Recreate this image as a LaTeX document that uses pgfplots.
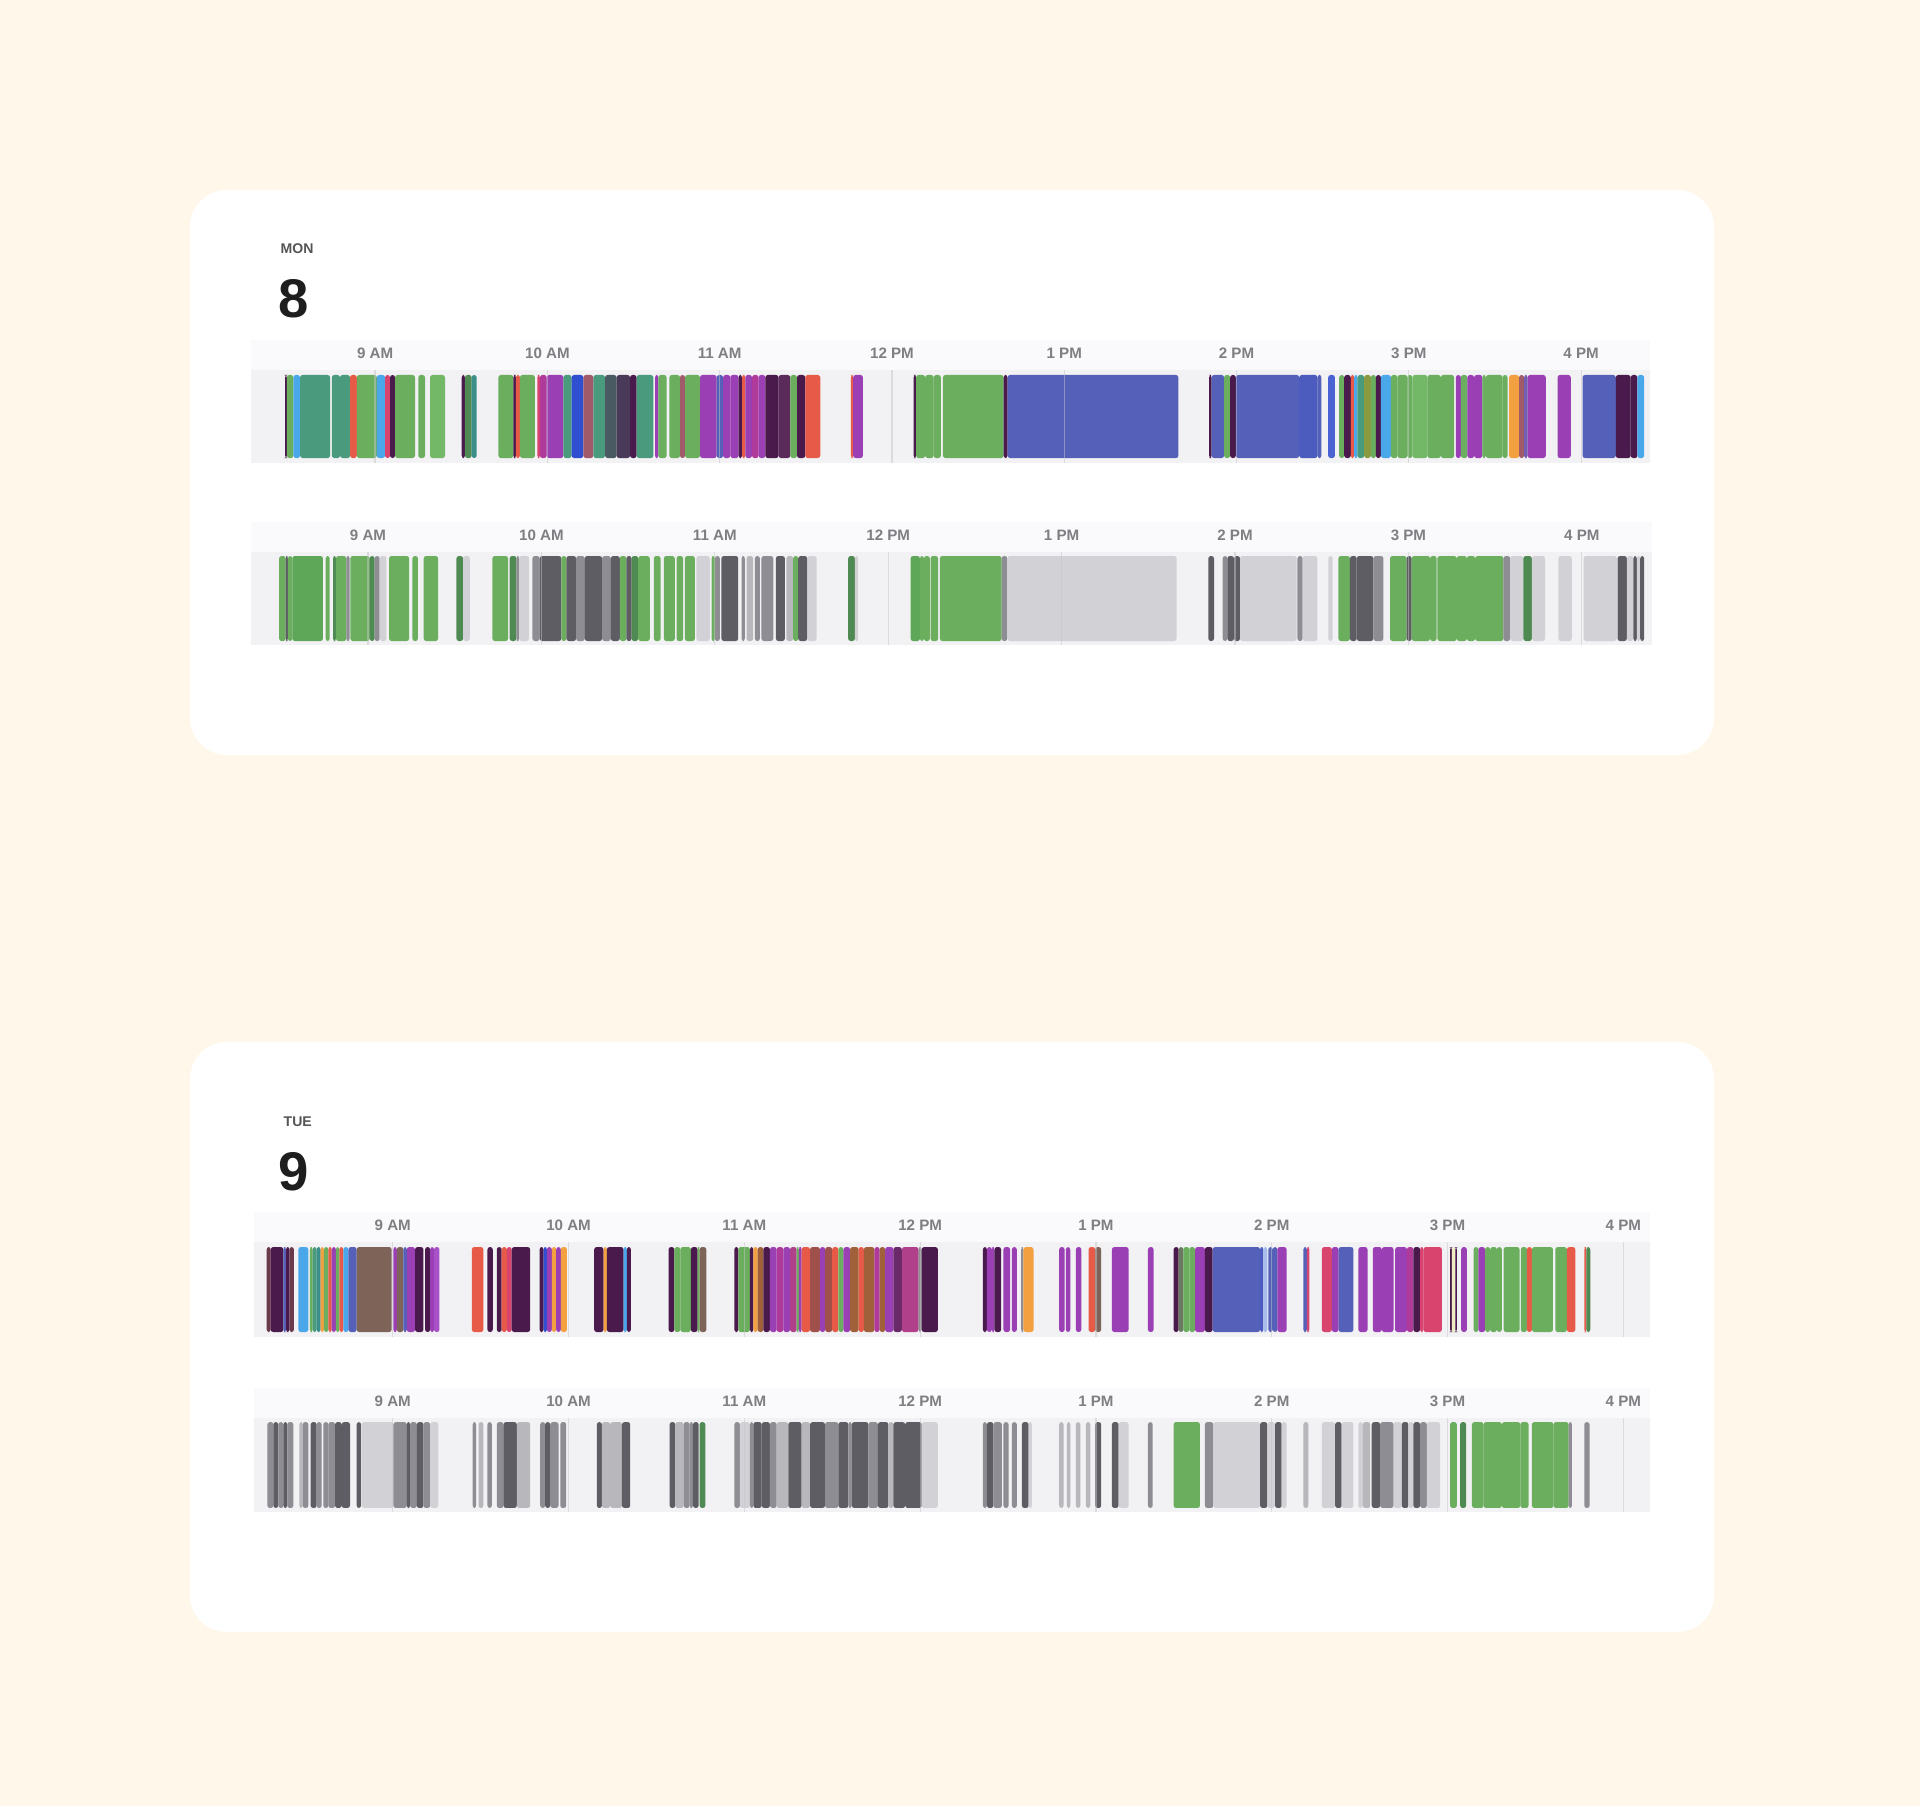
\documentclass[border=0pt]{standalone}
\usepackage{pgfplots}
\pgfplotsset{compat=1.18}
\usepackage{fontspec}
\setmainfont{Liberation Sans}

\definecolor{cream}{HTML}{FFF8EA}
\definecolor{stripbg}{HTML}{F2F1F4}
\definecolor{bandc}{HTML}{FAF9FB}
\definecolor{tickc}{HTML}{7E7E83}
\definecolor{gridc}{HTML}{C5C5C8}
\definecolor{headc}{HTML}{555555}
\definecolor{numc}{HTML}{1E1E1E}
% activity colours
\definecolor{grn}{HTML}{6AAE5E}
\definecolor{lgrn}{HTML}{72B866}
\definecolor{grn2}{HTML}{5EA658}
\definecolor{dgrn}{HTML}{4E8A52}
\definecolor{teal}{HTML}{4A9A7E}
\definecolor{teal2}{HTML}{3A8F8A}
\definecolor{blu}{HTML}{5560B8}
\definecolor{blu2}{HTML}{4C5BBE}
\definecolor{blu3}{HTML}{4A62D2}
\definecolor{bblu}{HTML}{2F4FD0}
\definecolor{lblu}{HTML}{4AA8EA}
\definecolor{pblu}{HTML}{A8BCEC}
\definecolor{pvblu}{HTML}{7060B0}
\definecolor{pur}{HTML}{9B3FB5}
\definecolor{lpur}{HTML}{A850C8}
\definecolor{mag}{HTML}{B03A9A}
\definecolor{plum}{HTML}{4A1A4C}
\definecolor{dplum}{HTML}{5A2A5A}
\definecolor{dpur}{HTML}{4A3A5A}
\definecolor{dpur2}{HTML}{6A2A6A}
\definecolor{slate}{HTML}{4A5A62}
\definecolor{red}{HTML}{E85A48}
\definecolor{pink}{HTML}{D8446E}
\definecolor{org}{HTML}{F2A040}
\definecolor{brn}{HTML}{7E6458}
\definecolor{brnplum}{HTML}{6A3A4A}
\definecolor{mauve}{HTML}{A05A6A}
\definecolor{olive}{HTML}{8A9A40}
\definecolor{brnred}{HTML}{A0504A}
\definecolor{brorg}{HTML}{A0603A}
\definecolor{mred}{HTML}{B0408A}
\definecolor{pyel}{HTML}{EEEEC0}
\definecolor{grngray}{HTML}{6A7A60}
\definecolor{dgray}{HTML}{5E5D63}
\definecolor{mgray}{HTML}{8E8D93}
\definecolor{lgray}{HTML}{D2D1D6}
\definecolor{lgray2}{HTML}{B8B7BC}

% one activity block: start hour, end hour, colour
\newcommand{\seg}[3]{\addplot[draw=none,fill=#3,rounded corners=0.25mm] coordinates {(#1,0) (#2,0) (#2,1) (#1,1)} -- cycle;}

\pgfplotsset{strip/.style={
    scale only axis, anchor=south west,
    axis background/.style={fill=stripbg},
    axis line style={draw=none}, ytick=\empty,
    xtick={9,10,11,12,13,14,15,16},
    xticklabels={9 AM,10 AM,11 AM,12 PM,1 PM,2 PM,3 PM,4 PM},
    xticklabel pos=upper, major tick length=0pt,
    xticklabel style={font=\fontsize{4.3}{5}\selectfont\bfseries, text=tickc,
        anchor=base, yshift=1.2mm, inner sep=0pt},
    xmajorgrids, grid style={draw=gridc, opacity=0.5, line width=0.12mm},
    axis on top}}

\begin{document}
\begin{tikzpicture}
\fill[cream] (0,0) rectangle (192mm,-180.6mm);
\fill[white, rounded corners=3.7mm] (19mm,-19mm) rectangle (171.4mm,-75.5mm);
\fill[white, rounded corners=3.7mm] (19mm,-104.2mm) rectangle (171.4mm,-163.2mm);

\fill[bandc] (25.1mm,-34mm) rectangle (165mm,-37mm);
\fill[bandc] (25.1mm,-52.2mm) rectangle (165.2mm,-55.2mm);
\fill[bandc] (25.35mm,-121.2mm) rectangle (165mm,-124.2mm);
\fill[bandc] (25.35mm,-138.8mm) rectangle (165mm,-141.8mm);

\node[anchor=west, inner sep=0pt, text=headc, font=\fontsize{4}{5}\selectfont\bfseries] at (28mm,-24.9mm) {MON};
\node[anchor=west, inner sep=0pt, text=numc, font=\fontsize{15.5}{17}\selectfont\bfseries] at (27.8mm,-29.86mm) {8};
\node[anchor=west, inner sep=0pt, text=headc, font=\fontsize{4}{5}\selectfont\bfseries] at (28.3mm,-112.2mm) {TUE};
\node[anchor=west, inner sep=0pt, text=numc, font=\fontsize{15.5}{17}\selectfont\bfseries] at (27.8mm,-117.2mm) {9};

% ---------- Monday, apps ----------
\begin{axis}[strip, at={(25.1mm,-46.3mm)}, width=139.9mm, height=9.3mm,
    xmin=8.28, xmax=16.40, ymin=-0.06, ymax=1.06]
\seg{8.478}{8.488}{plum}
\seg{8.488}{8.526}{grn}
\seg{8.526}{8.565}{lblu}
\seg{8.565}{8.739}{teal}
\seg{8.749}{8.797}{teal}
\seg{8.797}{8.855}{teal}
\seg{8.855}{8.894}{red}
\seg{8.894}{9.010}{grn}
\seg{9.010}{9.058}{lblu}
\seg{9.058}{9.087}{pink}
\seg{9.087}{9.116}{plum}
\seg{9.116}{9.232}{grn}
\seg{9.251}{9.290}{grn}
\seg{9.319}{9.406}{lgrn}
\seg{9.503}{9.522}{plum}
\seg{9.522}{9.561}{dgrn}
\seg{9.561}{9.590}{teal2}
\seg{9.716}{9.803}{grn}
\seg{9.803}{9.818}{plum}
\seg{9.818}{9.841}{red}
\seg{9.841}{9.928}{grn}
\seg{9.942}{9.957}{pink}
\seg{9.957}{9.996}{mag}
\seg{9.996}{10.093}{pur}
\seg{10.093}{10.141}{teal}
\seg{10.141}{10.209}{bblu}
\seg{10.209}{10.267}{mauve}
\seg{10.267}{10.335}{teal}
\seg{10.335}{10.402}{slate}
\seg{10.402}{10.480}{dpur}
\seg{10.480}{10.518}{plum}
\seg{10.518}{10.615}{teal}
\seg{10.625}{10.644}{pur}
\seg{10.644}{10.692}{grn}
\seg{10.708}{10.770}{grn}
\seg{10.770}{10.799}{mauve}
\seg{10.799}{10.886}{grn}
\seg{10.886}{10.983}{pur}
\seg{10.983}{11.020}{blu}
\seg{11.020}{11.062}{pur}
\seg{11.062}{11.110}{pur}
\seg{11.110}{11.130}{plum}
\seg{11.130}{11.149}{red}
\seg{11.149}{11.188}{pur}
\seg{11.188}{11.226}{mag}
\seg{11.226}{11.265}{pur}
\seg{11.265}{11.342}{plum}
\seg{11.342}{11.410}{dplum}
\seg{11.410}{11.449}{grn}
\seg{11.449}{11.497}{plum}
\seg{11.497}{11.584}{red}
\seg{11.762}{11.775}{red}
\seg{11.775}{11.832}{pur}
\seg{12.126}{12.140}{plum}
\seg{12.140}{12.193}{grn}
\seg{12.193}{12.242}{grn}
\seg{12.242}{12.284}{grn}
\seg{12.296}{12.648}{grn}
\seg{12.648}{12.671}{plum}
\seg{12.671}{13.663}{blu}
\seg{13.841}{13.855}{plum}
\seg{13.855}{13.928}{blu}
\seg{13.928}{13.963}{grn}
\seg{13.963}{13.996}{plum}
\seg{13.996}{14.364}{blu}
\seg{14.364}{14.470}{blu2}
\seg{14.470}{14.493}{blu}
\seg{14.532}{14.571}{blu3}
\seg{14.596}{14.625}{grn}
\seg{14.625}{14.663}{plum}
\seg{14.663}{14.683}{red}
\seg{14.683}{14.702}{lblu}
\seg{14.702}{14.741}{teal}
\seg{14.741}{14.780}{olive}
\seg{14.780}{14.809}{grn}
\seg{14.809}{14.838}{plum}
\seg{14.838}{14.896}{lblu}
\seg{14.896}{14.934}{grn}
\seg{14.934}{14.992}{grn}
\seg{14.992}{15.021}{grn}
\seg{15.021}{15.108}{lgrn}
\seg{15.108}{15.186}{grn}
\seg{15.186}{15.263}{grn}
\seg{15.273}{15.302}{pur}
\seg{15.302}{15.340}{grn}
\seg{15.340}{15.379}{pur}
\seg{15.379}{15.427}{pur}
\seg{15.427}{15.447}{grn}
\seg{15.447}{15.544}{grn}
\seg{15.544}{15.573}{grn}
\seg{15.582}{15.640}{org}
\seg{15.640}{15.669}{mauve}
\seg{15.669}{15.689}{pvblu}
\seg{15.689}{15.795}{pur}
\seg{15.863}{15.940}{pur}
\seg{16.008}{16.201}{blu}
\seg{16.201}{16.288}{plum}
\seg{16.288}{16.327}{plum}
\seg{16.327}{16.366}{lblu}
\end{axis}

% ---------- Monday, categories ----------
\begin{axis}[strip, at={(25.1mm,-64.5mm)}, width=140.1mm, height=9.3mm,
    xmin=8.325, xmax=16.405, ymin=-0.047, ymax=1.047]
\seg{8.487}{8.525}{grn}
\seg{8.525}{8.538}{dgray}
\seg{8.538}{8.563}{grn}
\seg{8.563}{8.740}{grn2}
\seg{8.756}{8.779}{grn}
\seg{8.798}{8.815}{dgrn}
\seg{8.815}{8.875}{grn}
\seg{8.875}{8.894}{mgray}
\seg{8.898}{9.010}{grn}
\seg{9.010}{9.038}{dgrn}
\seg{9.038}{9.067}{mgray}
\seg{9.067}{9.106}{lgray}
\seg{9.121}{9.237}{grn}
\seg{9.256}{9.288}{grn}
\seg{9.321}{9.404}{grn}
\seg{9.510}{9.548}{dgrn}
\seg{9.548}{9.587}{lgray}
\seg{9.717}{9.808}{grn}
\seg{9.817}{9.856}{dgrn}
\seg{9.856}{9.871}{mgray}
\seg{9.871}{9.929}{lgray}
\seg{9.948}{9.990}{mgray}
\seg{9.990}{10.115}{dgray}
\seg{10.115}{10.144}{grn}
\seg{10.144}{10.200}{dgray}
\seg{10.200}{10.250}{mgray}
\seg{10.250}{10.350}{dgray}
\seg{10.350}{10.400}{mgray}
\seg{10.400}{10.452}{dgray}
\seg{10.452}{10.490}{grn}
\seg{10.490}{10.520}{dgray}
\seg{10.520}{10.558}{dgrn}
\seg{10.558}{10.625}{grn}
\seg{10.648}{10.687}{grn}
\seg{10.706}{10.769}{grn}
\seg{10.779}{10.817}{grn}
\seg{10.827}{10.885}{grn}
\seg{10.894}{10.971}{lgray}
\seg{10.981}{11.000}{grn}
\seg{11.000}{11.029}{mgray}
\seg{11.038}{11.135}{dgray}
\seg{11.154}{11.173}{mgray}
\seg{11.183}{11.221}{lgray2}
\seg{11.231}{11.260}{mgray}
\seg{11.269}{11.337}{mgray}
\seg{11.352}{11.404}{dgray}
\seg{11.413}{11.452}{lgray2}
\seg{11.452}{11.481}{grn}
\seg{11.481}{11.533}{dgray}
\seg{11.533}{11.587}{lgray}
\seg{11.769}{11.808}{dgrn}
\seg{11.808}{11.827}{lgray}
\seg{12.129}{12.183}{grn2}
\seg{12.183}{12.206}{grn}
\seg{12.206}{12.240}{grn}
\seg{12.244}{12.288}{grn}
\seg{12.298}{12.654}{grn}
\seg{12.654}{12.687}{mgray}
\seg{12.687}{13.663}{lgray}
\seg{13.846}{13.879}{dgray}
\seg{13.929}{13.956}{mgray}
\seg{13.956}{13.994}{dgray}
\seg{13.994}{14.029}{dgray}
\seg{14.029}{14.356}{lgray}
\seg{14.360}{14.390}{mgray}
\seg{14.390}{14.475}{lgray}
\seg{14.538}{14.563}{lgray}
\seg{14.596}{14.663}{grn}
\seg{14.663}{14.702}{dgray}
\seg{14.702}{14.798}{dgray}
\seg{14.798}{14.856}{mgray}
\seg{14.894}{14.990}{grn}
\seg{14.990}{15.019}{dgray}
\seg{15.019}{15.125}{grn}
\seg{15.125}{15.163}{grn}
\seg{15.167}{15.279}{grn}
\seg{15.279}{15.337}{grn}
\seg{15.337}{15.385}{grn}
\seg{15.385}{15.548}{grn}
\seg{15.548}{15.587}{mgray}
\seg{15.587}{15.663}{lgray}
\seg{15.663}{15.712}{dgrn}
\seg{15.712}{15.788}{lgray}
\seg{15.865}{15.942}{lgray}
\seg{16.010}{16.202}{lgray}
\seg{16.206}{16.260}{dgray}
\seg{16.260}{16.298}{lgray}
\seg{16.298}{16.317}{dgray}
\seg{16.317}{16.337}{lgray}
\seg{16.337}{16.360}{dgray}
\end{axis}

% ---------- Tuesday, apps ----------
\begin{axis}[strip, at={(25.35mm,-133.7mm)}, width=139.65mm, height=9.5mm,
    xmin=8.208, xmax=16.152, ymin=-0.059, ymax=1.059]
\seg{8.283}{8.306}{brnplum}
\seg{8.306}{8.378}{plum}
\seg{8.378}{8.393}{blu}
\seg{8.393}{8.412}{plum}
\seg{8.412}{8.438}{brnplum}
\seg{8.463}{8.520}{lblu}
\seg{8.529}{8.545}{grn}
\seg{8.545}{8.567}{teal}
\seg{8.567}{8.590}{teal2}
\seg{8.590}{8.609}{org}
\seg{8.609}{8.634}{grn}
\seg{8.634}{8.653}{red}
\seg{8.653}{8.677}{pur}
\seg{8.677}{8.696}{grn}
\seg{8.696}{8.719}{red}
\seg{8.719}{8.748}{lblu}
\seg{8.748}{8.795}{blu}
\seg{8.795}{8.994}{brn}
\seg{9.004}{9.023}{pur}
\seg{9.023}{9.061}{brn}
\seg{9.061}{9.080}{blu}
\seg{9.080}{9.127}{pur}
\seg{9.127}{9.175}{plum}
\seg{9.184}{9.213}{plum}
\seg{9.213}{9.235}{pur}
\seg{9.235}{9.266}{lpur}
\seg{9.450}{9.516}{red}
\seg{9.539}{9.569}{plum}
\seg{9.592}{9.620}{plum}
\seg{9.620}{9.649}{red}
\seg{9.649}{9.677}{pink}
\seg{9.677}{9.782}{plum}
\seg{9.835}{9.858}{plum}
\seg{9.858}{9.877}{bblu}
\seg{9.877}{9.905}{pur}
\seg{9.905}{9.930}{org}
\seg{9.930}{9.956}{pur}
\seg{9.956}{9.991}{org}
\seg{10.146}{10.199}{plum}
\seg{10.199}{10.218}{org}
\seg{10.218}{10.313}{plum}
\seg{10.313}{10.332}{lblu}
\seg{10.332}{10.355}{plum}
\seg{10.569}{10.602}{plum}
\seg{10.602}{10.636}{grn}
\seg{10.636}{10.696}{grn}
\seg{10.696}{10.734}{plum}
\seg{10.734}{10.746}{grn}
\seg{10.746}{10.784}{brn}
\seg{10.943}{10.966}{plum}
\seg{10.966}{11.032}{grn}
\seg{11.032}{11.051}{plum}
\seg{11.051}{11.076}{org}
\seg{11.076}{11.108}{brorg}
\seg{11.108}{11.146}{plum}
\seg{11.146}{11.184}{pur}
\seg{11.184}{11.222}{mag}
\seg{11.222}{11.260}{pur}
\seg{11.260}{11.298}{mred}
\seg{11.298}{11.310}{grn}
\seg{11.310}{11.326}{pur}
\seg{11.326}{11.374}{red}
\seg{11.374}{11.430}{brnred}
\seg{11.430}{11.460}{pur}
\seg{11.460}{11.500}{brnred}
\seg{11.500}{11.535}{red}
\seg{11.535}{11.564}{grn}
\seg{11.564}{11.602}{pur}
\seg{11.602}{11.650}{brorg}
\seg{11.650}{11.680}{red}
\seg{11.680}{11.740}{brorg}
\seg{11.740}{11.770}{mag}
\seg{11.770}{11.801}{brorg}
\seg{11.801}{11.848}{pur}
\seg{11.848}{11.896}{dpur2}
\seg{11.896}{11.991}{mred}
\seg{11.991}{12.009}{mgray}
\seg{12.009}{12.101}{plum}
\seg{12.357}{12.380}{plum}
\seg{12.380}{12.408}{pur}
\seg{12.408}{12.423}{pur}
\seg{12.423}{12.461}{plum}
\seg{12.474}{12.512}{pur}
\seg{12.522}{12.550}{pur}
\seg{12.575}{12.588}{mgray}
\seg{12.588}{12.645}{org}
\seg{12.791}{12.822}{pur}
\seg{12.829}{12.854}{pur}
\seg{12.886}{12.917}{pur}
\seg{12.958}{12.996}{red}
\seg{12.996}{13.030}{brn}
\seg{13.091}{13.186}{pur}
\seg{13.296}{13.328}{pur}
\seg{13.442}{13.471}{plum}
\seg{13.471}{13.497}{grngray}
\seg{13.497}{13.531}{grn}
\seg{13.531}{13.564}{grn}
\seg{13.564}{13.620}{pur}
\seg{13.620}{13.664}{plum}
\seg{13.664}{13.934}{blu}
\seg{13.934}{13.953}{blu2}
\seg{13.953}{13.975}{pblu}
\seg{13.981}{14.006}{blu}
\seg{14.006}{14.032}{blu}
\seg{14.032}{14.085}{pur}
\seg{14.180}{14.200}{blu}
\seg{14.200}{14.214}{pink}
\seg{14.285}{14.342}{pink}
\seg{14.342}{14.380}{pur}
\seg{14.380}{14.465}{blu}
\seg{14.493}{14.545}{pur}
\seg{14.575}{14.626}{pur}
\seg{14.626}{14.693}{pur}
\seg{14.702}{14.769}{pur}
\seg{14.769}{14.806}{mag}
\seg{14.806}{14.844}{plum}
\seg{14.844}{14.863}{pink}
\seg{14.863}{14.968}{pink}
\seg{15.015}{15.025}{plum}
\seg{15.025}{15.044}{pyel}
\seg{15.044}{15.053}{plum}
\seg{15.078}{15.110}{pur}
\seg{15.148}{15.176}{grn}
\seg{15.176}{15.214}{pur}
\seg{15.214}{15.243}{grn}
\seg{15.243}{15.281}{grn}
\seg{15.281}{15.309}{grn}
\seg{15.319}{15.410}{grn}
\seg{15.417}{15.452}{grn}
\seg{15.452}{15.480}{red}
\seg{15.480}{15.600}{grn}
\seg{15.613}{15.679}{grn}
\seg{15.679}{15.727}{red}
\seg{15.778}{15.790}{red}
\seg{15.790}{15.812}{dgrn}
\end{axis}

% ---------- Tuesday, categories ----------
\begin{axis}[strip, at={(25.35mm,-151.2mm)}, width=139.65mm, height=9.4mm,
    xmin=8.208, xmax=16.152, ymin=-0.047, ymax=1.047]
\seg{8.287}{8.321}{mgray}
\seg{8.321}{8.349}{dgray}
\seg{8.349}{8.378}{mgray}
\seg{8.378}{8.400}{dgray}
\seg{8.400}{8.435}{mgray}
\seg{8.469}{8.488}{lgray2}
\seg{8.488}{8.520}{mgray}
\seg{8.533}{8.567}{dgray}
\seg{8.567}{8.596}{mgray}
\seg{8.605}{8.634}{mgray}
\seg{8.634}{8.672}{mgray}
\seg{8.672}{8.710}{dgray}
\seg{8.710}{8.757}{dgray}
\seg{8.795}{8.820}{dgray}
\seg{8.824}{9.004}{lgray}
\seg{9.004}{9.080}{mgray}
\seg{9.080}{9.099}{dgray}
\seg{9.099}{9.137}{mgray}
\seg{9.137}{9.175}{dgray}
\seg{9.175}{9.213}{mgray}
\seg{9.213}{9.260}{lgray}
\seg{9.455}{9.474}{mgray}
\seg{9.488}{9.516}{lgray2}
\seg{9.539}{9.564}{mgray}
\seg{9.592}{9.630}{mgray}
\seg{9.630}{9.706}{dgray}
\seg{9.706}{9.782}{lgray2}
\seg{9.839}{9.867}{mgray}
\seg{9.867}{9.896}{dgray}
\seg{9.896}{9.943}{mgray}
\seg{9.953}{9.987}{mgray}
\seg{10.161}{10.190}{dgray}
\seg{10.190}{10.237}{lgray2}
\seg{10.237}{10.304}{lgray2}
\seg{10.304}{10.351}{dgray}
\seg{10.575}{10.607}{dgray}
\seg{10.607}{10.655}{lgray2}
\seg{10.655}{10.689}{mgray}
\seg{10.689}{10.708}{mgray}
\seg{10.708}{10.740}{dgray}
\seg{10.746}{10.778}{dgrn}
\seg{10.943}{10.975}{mgray}
\seg{10.975}{11.032}{lgray}
\seg{11.032}{11.051}{mgray}
\seg{11.051}{11.099}{dgray}
\seg{11.099}{11.146}{dgray}
\seg{11.146}{11.184}{mgray}
\seg{11.184}{11.250}{lgray2}
\seg{11.250}{11.326}{dgray}
\seg{11.326}{11.374}{lgray2}
\seg{11.374}{11.459}{dgray}
\seg{11.459}{11.535}{mgray}
\seg{11.535}{11.592}{dgray}
\seg{11.592}{11.611}{mgray}
\seg{11.611}{11.706}{dgray}
\seg{11.706}{11.760}{mgray}
\seg{11.760}{11.820}{dgray}
\seg{11.820}{11.848}{lgray2}
\seg{11.848}{11.915}{dgray}
\seg{11.915}{12.009}{dgray}
\seg{12.009}{12.101}{lgray}
\seg{12.357}{12.380}{mgray}
\seg{12.380}{12.417}{dgray}
\seg{12.417}{12.465}{mgray}
\seg{12.474}{12.503}{mgray}
\seg{12.522}{12.550}{mgray}
\seg{12.579}{12.617}{dgray}
\seg{12.617}{12.636}{lgray}
\seg{12.791}{12.816}{lgray2}
\seg{12.835}{12.854}{lgray2}
\seg{12.886}{12.911}{lgray2}
\seg{12.943}{12.968}{lgray2}
\seg{12.996}{13.030}{dgray}
\seg{13.091}{13.129}{dgray}
\seg{13.129}{13.186}{lgray}
\seg{13.296}{13.323}{mgray}
\seg{13.442}{13.592}{grn}
\seg{13.620}{13.668}{mgray}
\seg{13.668}{13.934}{lgray}
\seg{13.934}{13.975}{dgray}
\seg{13.975}{14.019}{lgray}
\seg{14.019}{14.057}{dgray}
\seg{14.057}{14.085}{lgray}
\seg{14.180}{14.209}{lgray2}
\seg{14.285}{14.361}{lgray}
\seg{14.361}{14.398}{dgray}
\seg{14.398}{14.465}{lgray}
\seg{14.493}{14.518}{lgray}
\seg{14.518}{14.560}{lgray2}
\seg{14.569}{14.617}{dgray}
\seg{14.617}{14.693}{mgray}
\seg{14.693}{14.740}{lgray}
\seg{14.740}{14.778}{dgray}
\seg{14.778}{14.806}{lgray}
\seg{14.806}{14.844}{dgray}
\seg{14.844}{14.882}{mgray}
\seg{14.882}{14.958}{lgray}
\seg{15.015}{15.053}{grn}
\seg{15.072}{15.106}{dgrn}
\seg{15.139}{15.205}{grn}
\seg{15.205}{15.309}{grn}
\seg{15.309}{15.414}{grn}
\seg{15.414}{15.461}{grn}
\seg{15.480}{15.603}{grn}
\seg{15.603}{15.689}{grn}
\seg{15.689}{15.708}{mgray}
\seg{15.778}{15.808}{mgray}
\end{axis}
\end{tikzpicture}
\end{document}
